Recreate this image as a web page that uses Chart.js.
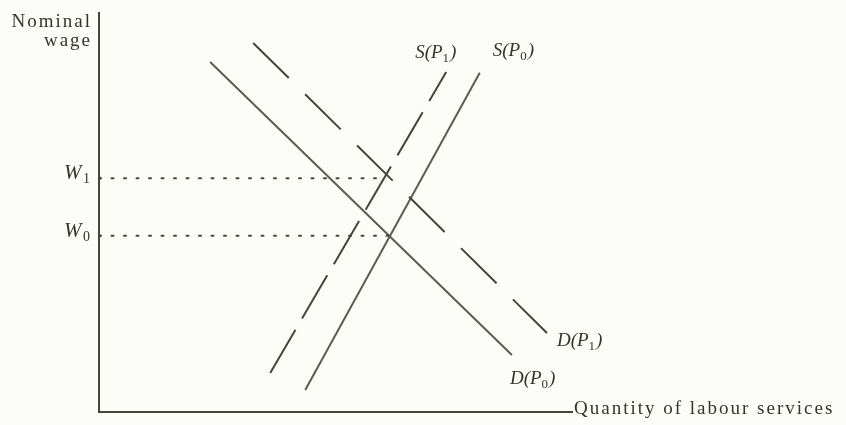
<!DOCTYPE html>
<html>
<head>
<meta charset="utf-8">
<script src="https://cdn.jsdelivr.net/npm/chart.js@4"></script>
<style>
  html, body { margin: 0; padding: 0; background: #fcfcf8; }
  #wrap { width: 846px; height: 425px; }
</style>
</head>
<body>
<div id="wrap"><canvas id="chart"></canvas></div>
<script>
/* Labour market: demand / supply of labour at two price levels.
   Units are arbitrary (0..10 on both axes). */

var demandP0 = [{ x: 2.35, y: 8.77 }, { x: 8.73, y: 1.43 }];
var demandP1 = [{ x: 3.26, y: 9.25 }, { x: 9.47, y: 1.98 }];
var supplyP0 = [{ x: 4.36, y: 0.55 }, { x: 8.05, y: 8.50 }];
var supplyP1 = [{ x: 3.62, y: 0.98 }, { x: 7.34, y: 8.52 }];

// equilibrium wages and the quantity where each dotted guide stops
var wageLevels = [4.42, 5.86];
var wageNames  = ['0', '1'];
var eqQuantity = [6.15, 6.07];

var curveNames = [
  { letter: 'D', sub: '0' },
  { letter: 'D', sub: '1' },
  { letter: 'S', sub: '0' },
  { letter: 'S', sub: '1' }
];

var INK   = '#45453d';
var SOFT  = '#5c5c54';
var SERIF = '"Liberation Serif", "DejaVu Serif", serif';

function guide(i) {
  return {
    data: [{ x: 0, y: wageLevels[i] }, { x: eqQuantity[i], y: wageLevels[i] }],
    borderColor: INK, borderWidth: 2, borderDash: [2, 10.5], borderCapStyle: 'round',
    pointRadius: [2, 0], pointBackgroundColor: INK, pointBorderWidth: 0
  };
}

function line(data, color, dash) {
  return {
    data: data, borderColor: color, borderWidth: 2, borderDash: dash || [],
    pointRadius: 0, tension: 0
  };
}

// curve label: italic letter, "(P", small subscript, ")"
function curveLabel(ctx, c, x, y) {
  ctx.textAlign = 'left';
  ctx.font = 'italic 19px ' + SERIF;
  var s = c.letter + '(P';
  ctx.fillText(s, x, y);
  x += ctx.measureText(s).width;
  ctx.font = '13px ' + SERIF;
  ctx.fillText(c.sub, x, y + 4);
  x += ctx.measureText(c.sub).width + 1;
  ctx.font = 'italic 19px ' + SERIF;
  ctx.fillText(')', x, y);
}

var textPlugin = {
  id: 'texts',
  afterDatasetsDraw: function(chart) {
    var ctx = chart.ctx, xs = chart.scales.x, ys = chart.scales.y, a = chart.chartArea;
    ctx.save();
    ctx.fillStyle = '#35352f';
    ctx.textBaseline = 'alphabetic';

    // axis titles
    ctx.letterSpacing = '2px';
    ctx.font = '19px ' + SERIF;
    ctx.textAlign = 'right';
    ctx.fillText('Nominal', a.left - 7, a.top + 14);
    ctx.fillText('wage', a.left - 7, a.top + 33);
    ctx.textAlign = 'left';
    ctx.fillText('Quantity of labour services', a.right + 2, a.bottom + 2);
    ctx.letterSpacing = '0px';

    // wage labels
    for (var i = 0; i < wageLevels.length; i++) {
      var py = ys.getPixelForValue(wageLevels[i]);
      ctx.textAlign = 'left';
      ctx.font = 'italic 21px ' + SERIF;
      ctx.fillText('W', a.left - 35, py + 1);
      ctx.font = '14px ' + SERIF;
      ctx.fillText(wageNames[i], a.left - 16, py + 5);
    }

    // curve labels near line ends
    function at(p) { return [xs.getPixelForValue(p.x), ys.getPixelForValue(p.y)]; }
    var e;
    e = at(demandP0[1]); curveLabel(ctx, curveNames[0], e[0] - 2, e[1] + 29);
    e = at(demandP1[1]); curveLabel(ctx, curveNames[1], e[0] + 10, e[1] + 13);
    e = at(supplyP0[1]); curveLabel(ctx, curveNames[2], e[0] + 13, e[1] - 17);
    e = at(supplyP1[1]); curveLabel(ctx, curveNames[3], e[0] - 31, e[1] - 14);
    ctx.restore();
  }
};

new Chart(document.getElementById('chart'), {
  type: 'scatter',
  data: {
    datasets: [
      guide(0),
      guide(1),
      line(demandP0, SOFT),
      line(demandP1, INK, [50, 23]),
      line(supplyP0, SOFT),
      line(supplyP1, INK, [50, 13])
    ]
  },
  options: {
    responsive: true,
    maintainAspectRatio: false,
    animation: false,
    showLine: true,
    layout: { padding: { left: 99, top: 13, right: 274, bottom: 13 } },
    plugins: { legend: { display: false }, tooltip: { enabled: false } },
    scales: {
      x: {
        type: 'linear', min: 0, max: 10,
        grid: { display: false, drawTicks: false },
        ticks: { display: false },
        border: { display: true, color: INK, width: 2 }
      },
      y: {
        type: 'linear', min: 0, max: 10,
        grid: { display: false, drawTicks: false },
        ticks: { display: false },
        border: { display: true, color: INK, width: 2 }
      }
    }
  },
  plugins: [textPlugin]
});
</script>
</body>
</html>
